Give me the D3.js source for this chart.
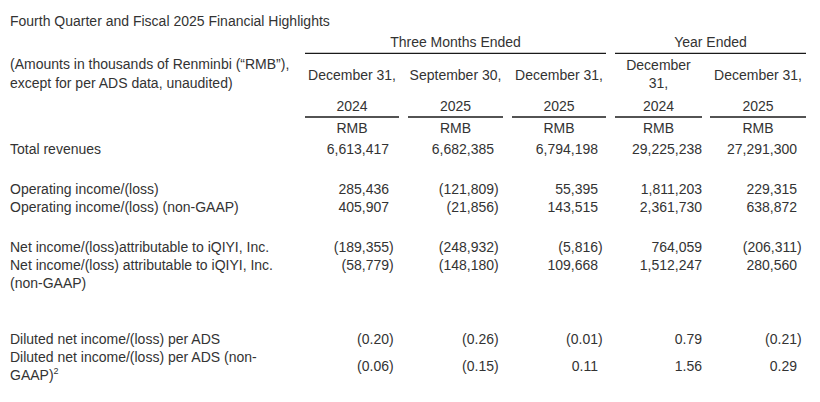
<!DOCTYPE html>
<html>
<head>
<meta charset="utf-8">
<script src="https://cdn.jsdelivr.net/npm/d3@7"></script>
<style>
  html, body { margin: 0; padding: 0; background: #fff; }
  svg { display: block; }
  text { font-family: "Liberation Sans", Arial, Helvetica, sans-serif; fill: #333; }
</style>
</head>
<body>
<svg id="chart" width="820" height="402"></svg>
<script>
// ---------- data ----------
const title = "Fourth Quarter and Fiscal 2025 Financial Highlights";
const noteLines = ["(Amounts in thousands of Renminbi (\u201CRMB\u201D),", "except for per ADS data, unaudited)"];
const groups = ["Three Months Ended", "Year Ended"];
const columns = ["q4_2024", "q3_2025", "q4_2025", "fy_2024", "fy_2025"];
const columnGroup = ["Three Months Ended", "Three Months Ended", "Three Months Ended", "Year Ended", "Year Ended"];
const columnHeaders = [
  ["December 31,", "2024"],
  ["September 30,", "2025"],
  ["December 31,", "2025"],
  ["December", "31,", "2024"],
  ["December 31,", "2025"]
];
const currency = "RMB";
const rowKeys = ["rev", "op", "opng", "ni", "ning", "eps", "epsng"];
const rowLabels = [
  ["Total revenues"],
  ["Operating income/(loss)"],
  ["Operating income/(loss) (non-GAAP)"],
  ["Net income/(loss)attributable to iQIYI, Inc."],
  ["Net income/(loss) attributable to iQIYI, Inc.", "(non-GAAP)"],
  ["Diluted net income/(loss) per ADS"],
  ["Diluted net income/(loss) per ADS (non-", "GAAP)"]
];
const rowFootnote = ["", "", "", "", "", "", "2"];
const rowIsPerShare = [false, false, false, false, false, true, true];

const q4_2024 = [6613417, 285436, 405907, -189355, -58779, -0.20, -0.06];
const q3_2025 = [6682385, -121809, -21856, -248932, -148180, -0.26, -0.15];
const q4_2025 = [6794198, 55395, 143515, -5816, 109668, -0.01, 0.11];
const fy_2024 = [29225238, 1811203, 2361730, 764059, 1512247, 0.79, 1.56];
const fy_2025 = [27291300, 229315, 638872, -206311, 280560, -0.21, 0.29];
const seriesByColumn = { q4_2024, q3_2025, q4_2025, fy_2024, fy_2025 };

// ---------- layout ----------
const svg = d3.select("#chart");
const FS = 14, LH = 17.5, LEFT = 10;

const colLeft = d3.scaleOrdinal().domain(columns).range([305, 408, 512, 615, 710]);
const colRight = d3.scaleOrdinal().domain(columns).range([399, 503, 606, 702, 806]);
const colValueRight = d3.scaleOrdinal().domain(columns).range([389, 494, 598, 702, 797]);
const colCenter = c => (colLeft(c) + colRight(c)) / 2;
const rowY = d3.scaleOrdinal().domain(rowKeys).range([154, 194, 212, 252, 270, 344, 362]);
const rowValueOffset = d3.scaleOrdinal().domain(rowKeys).range([0, 0, 0, 0, 0, 0, 9]);

const parenW = 4.7; // width of ")" hanging past the digit column

const fmtInt = d3.format(",");
const fmtPS = d3.format(".2f");
function fmt(v, perShare) {
  const s = perShare ? fmtPS(Math.abs(v)) : fmtInt(Math.abs(v));
  return v < 0 ? "(" + s + ")" : s;
}

// title
svg.append("text").attr("x", LEFT).attr("y", 25.5).attr("font-size", FS).text(title);

// note
svg.append("g").selectAll("text").data(noteLines).join("text")
  .attr("x", LEFT).attr("y", (d, i) => 69 + i * 19).attr("font-size", FS).text(d => d);

// group headers
groups.forEach(g => {
  const cols = columns.filter((c, i) => columnGroup[i] === g);
  const x0 = d3.min(cols, colLeft), x1 = d3.max(cols, colRight);
  svg.append("text").attr("x", (x0 + x1) / 2).attr("y", 47).attr("text-anchor", "middle")
    .attr("font-size", FS).text(g);
  svg.append("line").attr("x1", x0).attr("x2", x1).attr("y1", 53.3).attr("y2", 53.3)
    .attr("stroke", "#1a1a1a").attr("stroke-width", 1.3);
});

// column headers
columns.forEach((c, i) => {
  const lines = columnHeaders[i];
  const g = svg.append("g");
  if (lines.length === 2) {
    g.append("text").attr("x", colCenter(c)).attr("y", 79.5).attr("text-anchor", "middle").attr("font-size", FS).text(lines[0]);
    g.append("text").attr("x", colCenter(c)).attr("y", 111).attr("text-anchor", "middle").attr("font-size", FS).text(lines[1]);
  } else {
    g.append("text").attr("x", colCenter(c)).attr("y", 69.5).attr("text-anchor", "middle").attr("font-size", FS).text(lines[0]);
    g.append("text").attr("x", colCenter(c)).attr("y", 87.5).attr("text-anchor", "middle").attr("font-size", FS).text(lines[1]);
    g.append("text").attr("x", colCenter(c)).attr("y", 111).attr("text-anchor", "middle").attr("font-size", FS).text(lines[2]);
  }
  g.append("line").attr("x1", colLeft(c)).attr("x2", colRight(c)).attr("y1", 117).attr("y2", 117)
    .attr("stroke", "#1a1a1a").attr("stroke-width", 1.3);
  g.append("text").attr("x", colCenter(c)).attr("y", 133).attr("text-anchor", "middle").attr("font-size", FS).text(currency);
});

// row labels
rowKeys.forEach((k, i) => {
  const t = svg.append("text").attr("x", LEFT).attr("y", rowY(k)).attr("font-size", FS);
  rowLabels[i].forEach((line, j) => {
    t.append("tspan").attr("x", LEFT).attr("y", rowY(k) + j * 18.3).text(line);
  });
  if (rowFootnote[i]) {
    t.append("tspan").attr("font-size", 9).attr("dy", -6).text(rowFootnote[i]);
  }
});

// values
columns.forEach(c => {
  const vals = seriesByColumn[c];
  svg.append("g").selectAll("text").data(vals).join("text")
    .attr("x", (v) => colValueRight(c) + (v < 0 ? parenW : 0))
    .attr("y", (v, i) => rowY(rowKeys[i]) + rowValueOffset(rowKeys[i]))
    .attr("text-anchor", "end")
    .attr("font-size", FS)
    .text((v, i) => fmt(v, rowIsPerShare[i]));
});
</script>
</body>
</html>
